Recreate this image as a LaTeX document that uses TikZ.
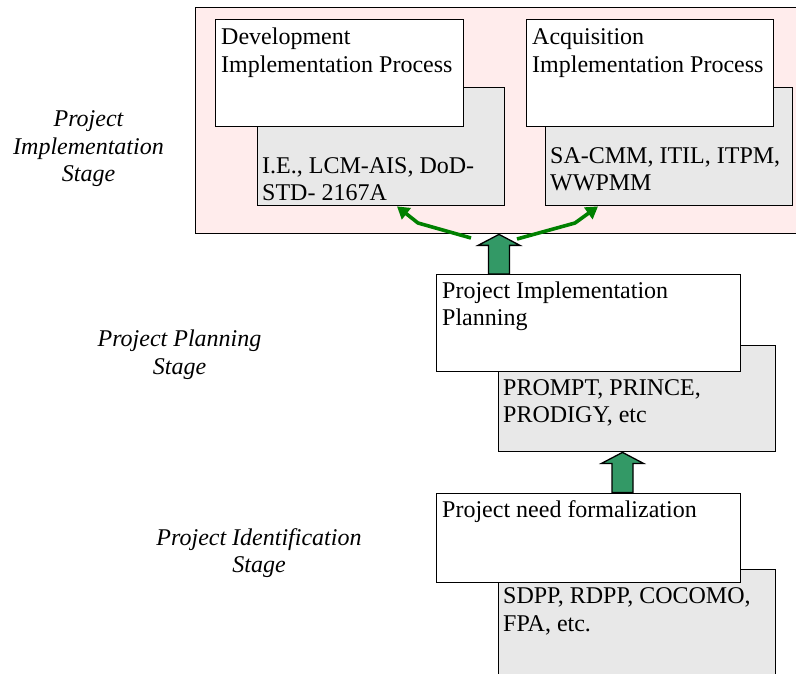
\documentclass[tikz,border=0pt]{standalone}
\usepackage{fontspec}
\setmainfont{Liberation Serif}
\usetikzlibrary{calc,arrows.meta}

\definecolor{stagepink}{RGB}{255,236,236}
\definecolor{toolgrey}{RGB}{232,232,232}
\definecolor{fatgreen}{RGB}{51,153,102}
\definecolor{linkgreen}{RGB}{0,128,0}

% block arrow pointing up: #1 = foot point, #2 = tip point
\newcommand\upblock[2]{%
  \draw[fatarrow]
    ($(#1)+(-10.5,0)$) -- ($(#2)+(-10.5,11)$) -- ($(#2)+(-21,11)$) -- (#2)
    -- ($(#2)+(21,11)$) -- ($(#2)+(10.5,11)$) -- ($(#1)+(10.5,0)$) -- cycle;}

\begin{document}
\begin{tikzpicture}[x=1pt,y=-1pt,
  box/.style={draw=black, line width=1.4pt, rectangle, inner sep=0pt, anchor=north west},
  whitebox/.style={box, fill=white},
  greybox/.style={box, fill=toolgrey},
  % multi-line texts are placed by the baseline of their last line
  boxtext/.style={anchor=base west, inner sep=0pt, align=left,
    font=\fontsize{24}{27.5}\selectfont},
  stagetext/.style={anchor=base, inner sep=0pt, align=center,
    font=\fontsize{24}{27.5}\selectfont\itshape},
  fatarrow/.style={draw=black, line width=1.3pt, fill=fatgreen, line join=miter},
  link/.style={draw=linkgreen, line width=3.6pt, line join=round,
    -{Triangle[length=12pt,width=14pt]}}]

\useasboundingbox (0,0) rectangle (796,674);
\clip (0,0) rectangle (796,674);

% implementation stage frame
\node[box, fill=stagepink, minimum width=612pt, minimum height=226pt] (impl) at (195,7) {};

% development process
\node[greybox, minimum width=247pt, minimum height=118pt] (devg) at (257,87) {};
\node[whitebox, minimum width=248pt, minimum height=107pt] (dev) at (215,19) {};
\node[boxtext] (devt) at (221,72.5) {Development\\Implementation Process};
\node[boxtext] (devgt) at (262,200.5) {I.E., LCM-AIS, DoD-\\STD- 2167A};

% acquisition process
\node[greybox, minimum width=247pt, minimum height=118pt] (acqg) at (545,87) {};
\node[whitebox, minimum width=247pt, minimum height=107pt] (acq) at (526,19) {};
\node[boxtext] (acqt) at (532,72.5) {Acquisition\\Implementation Process};
\node[boxtext] (acqgt) at (550,190.5) {SA-CMM, ITIL, ITPM,\\WWPMM};

% planning
\node[greybox, minimum width=277pt, minimum height=106pt] (plang) at (498,345) {};
\node[whitebox, minimum width=304pt, minimum height=97pt] (plan) at (436,274) {};
\node[boxtext] (plant) at (442,325.5) {Project Implementation\\Planning};
\node[boxtext] (plangt) at (503,422.5) {PROMPT, PRINCE,\\PRODIGY, etc};

% identification
\node[greybox, minimum width=277pt, minimum height=130pt] (needg) at (498,569) {};
\node[whitebox, minimum width=304pt, minimum height=89.5pt] (need) at (436,492.5) {};
\node[boxtext] (needt) at (442,517) {Project need formalization};
\node[boxtext] (needgt) at (503,631) {SDPP, RDPP, COCOMO,\\FPA, etc.};

% stage labels
\node[stagetext] (s1) at (88.5,182) {Project\\Implementation\\Stage};
\node[stagetext] (s2) at (179.5,374) {Project Planning\\Stage};
\node[stagetext] (s3) at (259,572.5) {Project Identification\\Stage};

% block arrows between stages
\coordinate (tip1) at ($(impl.south west)+(304,0)$);
\coordinate (foot1) at ($(plan.north west)+(63,0)$);
\upblock{foot1}{tip1}
\coordinate (tip2) at ($(plang.south west)+(124.5,0)$);
\coordinate (foot2) at ($(need.north west)+(186.5,0)$);
\upblock{foot2}{tip2}

% links from the planning arrow to both processes
\coordinate (forkL) at (471,238);
\coordinate (bendL) at (418,223);
\coordinate (hitL) at ($(devg.south west)+(140,0)$);
\draw[link] (forkL) -- (bendL) -- (hitL);
\coordinate (forkR) at (517,239);
\coordinate (bendR) at (575,223);
\coordinate (hitR) at ($(acqg.south west)+(53,0)$);
\draw[link] (forkR) -- (bendR) -- (hitR);

\end{tikzpicture}
\end{document}
